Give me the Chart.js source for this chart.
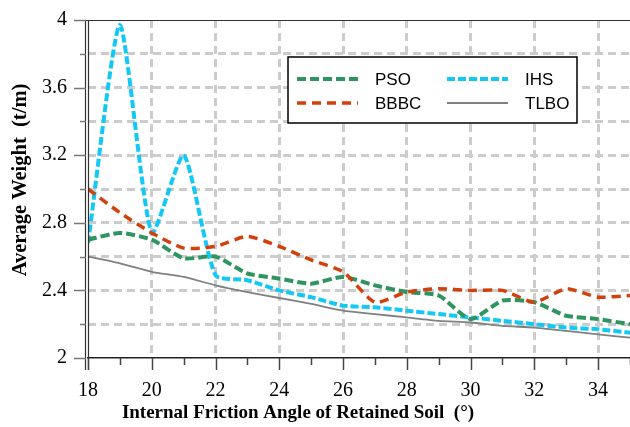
<!DOCTYPE html>
<html>
<head>
<meta charset="utf-8">
<script src="https://cdn.jsdelivr.net/npm/chart.js@4"></script>
<style>
  html, body { margin: 0; padding: 0; background: #fff; }
  #wrap { width: 630px; height: 427px; }
</style>
</head>
<body>
<div id="wrap"><canvas id="chart" width="630" height="427"></canvas></div>
<script>
const angles = [18, 19, 20, 21, 22, 23, 24, 25, 26, 27, 28, 29, 30, 31, 32, 33, 34, 35];
const pso  = [2.70, 2.74, 2.70, 2.59, 2.60, 2.50, 2.47, 2.44, 2.48, 2.43, 2.39, 2.37, 2.23, 2.34, 2.33, 2.25, 2.23, 2.20];
const bbbc = [3.00, 2.86, 2.74, 2.65, 2.66, 2.72, 2.66, 2.58, 2.51, 2.33, 2.39, 2.41, 2.40, 2.40, 2.33, 2.41, 2.36, 2.37];
const ihs  = [2.68, 3.97, 2.74, 3.20, 2.49, 2.46, 2.40, 2.36, 2.31, 2.30, 2.28, 2.26, 2.24, 2.22, 2.20, 2.18, 2.17, 2.15];
const tlbo = [2.60, 2.56, 2.51, 2.48, 2.43, 2.39, 2.355, 2.32, 2.28, 2.26, 2.24, 2.22, 2.21, 2.19, 2.18, 2.16, 2.14, 2.12];

const xTitle = "Internal Friction Angle of Retained Soil  (\u00b0)";
const yTitle = "Average Weight  (t/m)";

const serif = "'Liberation Serif', 'Times New Roman', serif";
const sans = "'Liberation Sans', Arial, sans-serif";

function series(values) {
    return values.map((v, i) => ({ x: angles[i], y: v }));
}

const datasets = [
    { label: "TLBO", data: series(tlbo), borderColor: "#808080", borderWidth: 1.8, borderDash: [] },
    { label: "BBBC", data: series(bbbc), borderColor: "#d2400c", borderWidth: 3.5, borderDash: [9, 6] },
    { label: "PSO",  data: series(pso),  borderColor: "#2e9460", borderWidth: 4,   borderDash: [9, 4] },
    { label: "IHS",  data: series(ihs),  borderColor: "#14c8f5", borderWidth: 4,   borderDash: [8, 3] }
];
datasets.forEach(d => { d.pointRadius = 0; d.tension = 0.2; d.fill = false; });

// frame, tick marks, axis titles and the boxed legend
const decorations = {
    id: "decorations",
    afterDraw(chart) {
        const ctx = chart.ctx;
        const a = chart.chartArea;
        const xs = chart.scales.x;
        const ys = chart.scales.y;
        ctx.save();
        ctx.setLineDash([]);

        // top border and double left axis
        ctx.strokeStyle = "#333";
        ctx.lineWidth = 1.2;
        ctx.beginPath();
        ctx.moveTo(a.left - 14, a.top + 0.5);
        ctx.lineTo(a.right, a.top + 0.5);
        ctx.moveTo(a.left - 2.5, a.top);
        ctx.lineTo(a.left - 2.5, a.bottom + 12);
        ctx.moveTo(a.left + 0.5, a.top);
        ctx.lineTo(a.left + 0.5, a.bottom + 12);
        ctx.stroke();

        // y ticks
        ctx.strokeStyle = "#777";
        ctx.lineWidth = 1.5;
        ys.ticks.forEach(t => {
            const y = Math.round(ys.getPixelForValue(t.value)) + 0.5;
            const major = Math.round(t.value * 10) % 4 === 0;
            ctx.beginPath();
            ctx.moveTo(a.left - (major ? 14 : 8), y);
            ctx.lineTo(a.left - 2, y);
            ctx.stroke();
        });

        // x ticks
        ctx.strokeStyle = "#444";
        xs.ticks.forEach(t => {
            const x = Math.round(xs.getPixelForValue(t.value)) + 0.5;
            const major = t.value % 2 === 0;
            ctx.beginPath();
            ctx.moveTo(x, a.bottom);
            ctx.lineTo(x, a.bottom + (major ? 12 : 7));
            ctx.stroke();
        });

        // axis titles
        ctx.fillStyle = "#000";
        ctx.textAlign = "center";
        ctx.textBaseline = "middle";
        ctx.font = "bold 19px " + serif;
        ctx.fillText(xTitle, 298, 413);
        ctx.font = "bold 20.5px " + serif;
        ctx.translate(21, 180);
        ctx.rotate(-Math.PI / 2);
        ctx.fillText(yTitle, 0, 0);
        ctx.restore();

        // legend box
        ctx.save();
        const bx = 288, by = 57, bw = 289, bh = 66;
        ctx.fillStyle = "#fff";
        ctx.fillRect(bx, by, bw, bh);
        ctx.strokeStyle = "#000";
        ctx.lineWidth = 1.5;
        ctx.strokeRect(bx, by, bw, bh);
        const slots = { PSO: [0, 0], IHS: [1, 0], BBBC: [0, 1], TLBO: [1, 1] };
        ctx.font = "17px " + sans;
        ctx.textAlign = "left";
        ctx.textBaseline = "middle";
        datasets.forEach(d => {
            const [c, r] = slots[d.label];
            const x0 = c === 0 ? 297 : 447;
            const y0 = r === 0 ? 79 : 103;
            ctx.strokeStyle = d.borderColor;
            ctx.lineWidth = d.borderWidth;
            ctx.setLineDash(d.borderDash);
            ctx.beginPath();
            ctx.moveTo(x0, y0);
            ctx.lineTo(x0 + 61, y0);
            ctx.stroke();
            ctx.setLineDash([]);
            ctx.fillStyle = "#000";
            ctx.fillText(d.label, x0 + 78, y0 + 1);
        });
        ctx.restore();
    }
};

new Chart(document.getElementById("chart"), {
    type: "line",
    data: { datasets: datasets },
    options: {
        responsive: false,
        animation: false,
        layout: { padding: { top: 20, right: 0, left: 0, bottom: 0 } },
        plugins: {
            legend: { display: false },
            tooltip: { enabled: false }
        },
        scales: {
            x: {
                type: "linear",
                min: 18,
                max: 35,
                afterFit: (s) => { s.height = 69; s.paddingRight = 0; s.paddingLeft = 0; },
                ticks: {
                    stepSize: 1,
                    autoSkip: false,
                    maxRotation: 0,
                    padding: 21,
                    color: "#000",
                    font: { family: serif, size: 20 },
                    callback: (v) => (v % 2 === 0 && v < 35 ? String(v) : "")
                },
                grid: {
                    drawTicks: false,
                    lineWidth: 3,
                    color: (c) => (c.tick && c.tick.value % 2 === 0 && c.tick.value > 18 && c.tick.value < 35) ? "#cccccc" : "rgba(0,0,0,0)"
                },
                border: { display: true, color: "#222", width: 1.5, dash: [8, 5] }
            },
            y: {
                min: 2,
                max: 4,
                afterFit: (s) => { s.width = 88; s.paddingTop = 0; s.paddingBottom = 0; },
                ticks: {
                    stepSize: 0.2,
                    autoSkip: false,
                    padding: 21,
                    color: "#000",
                    font: { family: serif, size: 20 },
                    callback: (v) => {
                        const k = Math.round(v * 10);
                        if (k % 4 !== 0) return "";
                        return k % 10 === 0 ? String(k / 10) : (k / 10).toFixed(1);
                    }
                },
                grid: {
                    drawTicks: false,
                    lineWidth: 3,
                    color: (c) => (c.tick && c.tick.value > 2.01 && c.tick.value < 3.99) ? "#cccccc" : "rgba(0,0,0,0)"
                },
                border: { display: false, dash: [8, 5] }
            }
        }
    },
    plugins: [decorations]
});
</script>
</body>
</html>
